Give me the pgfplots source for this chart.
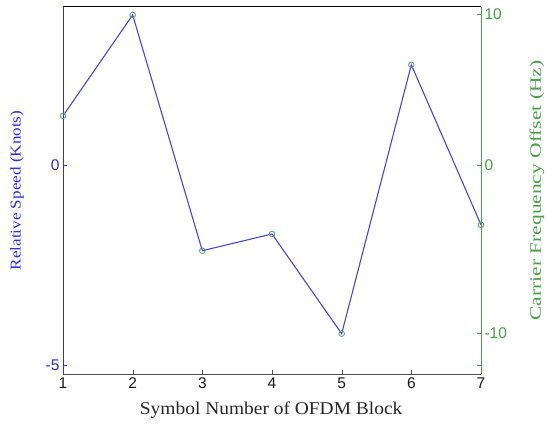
\documentclass[border=0pt]{standalone}
\usepackage{graphicx}
\usepackage{pgfplots}
\pgfplotsset{compat=1.18}
\usepackage{fontspec}
\setmainfont{Liberation Serif}
\newfontfamily\arial{Liberation Sans}
\definecolor{lblue}{RGB}{45,45,225}
\definecolor{lineblue}{RGB}{70,70,215}
\definecolor{lgreen}{RGB}{70,160,70}
\definecolor{mgreen}{RGB}{100,160,120}
\begin{document}
\begin{tikzpicture}
\begin{axis}[
  scale only axis, width=418pt, height=367pt,
  xmin=1, xmax=7, ymin=-5.23, ymax=3.97,
  axis x line*=bottom, axis y line*=left,
  axis line style={-}, tick align=inside,
  xtick={1,2,3,4,5,6,7}, ytick={-5,0},
  major tick length=4pt,
  x axis line style={draw=black!70, line width=0.9pt},
  x tick style={draw=black!70},
  y axis line style={draw=lblue, line width=0.9pt},
  y tick style={draw=lblue},
  every tick label/.append style={font=\arial\fontsize{15.5}{17}\selectfont},
  yticklabel style={color=lblue},
  xticklabel style={color=black!90},
  /pgf/number format/assume math mode=true,
  xlabel={\fontsize{18}{20}\selectfont\scalebox{1.08}[1]{Symbol Number of OFDM Block}},
  xlabel style={at={(axis description cs:0.498,-0.098)}, anchor=center, color=black!85},
  ylabel={\fontsize{15}{17}\selectfont\scalebox{1.14}[1]{Relative Speed (Knots)}},
  ylabel style={at={(axis description cs:-0.110,0.5)}, anchor=center, color=lblue},
]
\addplot[lineblue, line width=1.1pt, mark=o, mark size=2.8pt,
  mark options={draw=mgreen, line width=0.9pt}] coordinates {
  (1,1.24) (2,3.77) (3,-2.14) (4,-1.72) (5,-4.22) (6,2.52) (7,-1.49)
};
\coordinate (bl) at (axis description cs:-0.1507,-0.1526);
\coordinate (tr) at (axis description cs:1.1555,1.019);
\end{axis}
\begin{axis}[
  scale only axis, width=418pt, height=367pt,
  xmin=1, xmax=7, ymin=-5.23, ymax=3.97,
  axis x line*=top, axis y line*=right,
  axis line style={-}, tick align=inside,
  xtick=\empty,
  x axis line style={draw=black, line width=1pt},
  ytick={-4.2,0,3.8}, yticklabels={-10,0,10},
  major tick length=4pt,
  extra y ticks={-5}, extra y tick labels={},
  extra y tick style={tick style={draw=lblue}},
  y axis line style={draw=lgreen, line width=0.9pt},
  y tick style={draw=lgreen},
  every tick label/.append style={font=\arial\fontsize{15.5}{17}\selectfont},
  yticklabel style={color=lgreen},
  /pgf/number format/assume math mode=true,
  ylabel={\fontsize{16}{18}\selectfont\scalebox{1.34}[1]{Carrier Frequency Offset (Hz)}},
  ylabel style={at={(axis description cs:1.134,0.5)}, anchor=center, color=lgreen},
]
\end{axis}
\pgfresetboundingbox
\path[use as bounding box] (bl) rectangle (tr);
\end{tikzpicture}
\end{document}
